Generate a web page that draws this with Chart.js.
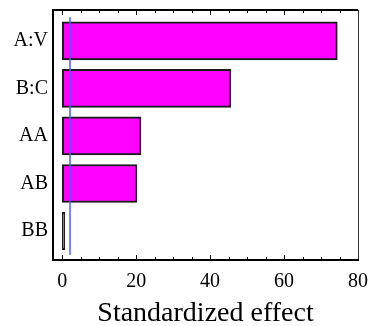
<!DOCTYPE html>
<html>
<head>
<meta charset="utf-8">
<script src="https://cdn.jsdelivr.net/npm/chart.js@4.4.1/dist/chart.umd.min.js"></script>
<style>
  html, body { margin: 0; padding: 0; background: #ffffff; }
  #wrap { width: 369px; height: 326px; }
</style>
</head>
<body>
<div id="wrap"><canvas id="paretoChart" width="369" height="326"></canvas></div>
<script>
// Pareto chart of standardized effects
const categories = ["A:V", "B:C", "AA", "AB", "BB"];
const effects = [74.4, 45.6, 21.3, 20.2, 0.65];
const xTicks = [0, 20, 40, 60, 80];
const minorStep = 5;
const criticalValue = 2.1;

const serif = "'Liberation Serif', 'Times New Roman', serif";

// frame, inside ticks and the significance line
const framePlugin = {
    id: "frame",
    afterDatasetsDraw(chart) {
        const { ctx, chartArea: a, scales: { x, y } } = chart;
        ctx.save();

        // blue reference line
        ctx.strokeStyle = "#4a5cff";
        ctx.lineWidth = 1.5;
        ctx.beginPath();
        const bx = x.getPixelForValue(criticalValue);
        ctx.moveTo(bx, y.getPixelForValue(-0.5));
        ctx.lineTo(bx, y.getPixelForValue(categories.length - 0.5));
        ctx.stroke();

        // ticks top and bottom
        ctx.strokeStyle = "#000000";
        ctx.lineWidth = 1;
        for (let v = 0; v <= xTicks[xTicks.length - 1]; v += minorStep) {
            const px = Math.round(x.getPixelForValue(v)) + 0.5;
            const len = xTicks.includes(v) ? 5 : 3;
            ctx.beginPath();
            ctx.moveTo(px, a.bottom);
            ctx.lineTo(px, a.bottom - len);
            ctx.moveTo(px, a.top);
            ctx.lineTo(px, a.top + len);
            ctx.stroke();
        }

        // right side, thin
        ctx.strokeStyle = "#333333";
        ctx.lineWidth = 1;
        ctx.beginPath();
        ctx.moveTo(a.right + 0.5, a.top);
        ctx.lineTo(a.right + 0.5, a.bottom);
        ctx.stroke();

        // left, top, bottom
        ctx.strokeStyle = "#000000";
        ctx.lineWidth = 2;
        ctx.beginPath();
        ctx.moveTo(a.right, a.top);
        ctx.lineTo(a.left, a.top);
        ctx.lineTo(a.left, a.bottom);
        ctx.lineTo(a.right + 1, a.bottom);
        ctx.stroke();

        ctx.restore();
    }
};

const ctx = document.getElementById("paretoChart").getContext("2d");

new Chart(ctx, {
    type: "bar",
    data: {
        datasets: [{
            data: categories.map((c, i) => ({ x: effects[i], y: i })),
            backgroundColor: "#ff00ff",
            borderColor: "#1a1a1a",
            borderWidth: 2,
            borderSkipped: false,
            barThickness: 38
        }]
    },
    options: {
        indexAxis: "y",
        responsive: false,
        animation: false,
        layout: { padding: { left: 0, top: 10, right: 11, bottom: 0 } },
        plugins: { legend: { display: false }, tooltip: { enabled: false } },
        scales: {
            x: {
                type: "linear",
                min: -2.5,
                max: 80,
                afterBuildTicks: (s) => { s.ticks = xTicks.map(v => ({ value: v })); },
                afterFit: (s) => { s.height = 66; s.paddingLeft = 0; s.paddingRight = 0; },
                grid: { display: false, drawTicks: false },
                border: { display: false },
                ticks: { color: "#000000", font: { family: serif, size: 20 }, padding: 10, maxRotation: 0 },
                title: {
                    display: true,
                    text: "Standardized effect",
                    color: "#000000",
                    font: { family: serif, size: 28, lineHeight: 1 },
                    padding: { top: 0, bottom: -2 }
                }
            },
            y: {
                type: "linear",
                reverse: true,
                offset: false,
                min: -0.65,
                max: 4.61,
                afterBuildTicks: (s) => { s.ticks = categories.map((c, i) => ({ value: i })); },
                afterFit: (s) => { s.width = 53; s.paddingTop = 0; s.paddingBottom = 0; },
                grid: { display: false, drawTicks: false },
                border: { display: false },
                ticks: {
                    color: "#000000",
                    font: { family: serif, size: 20 },
                    padding: 5,
                    callback: (v) => categories[v]
                }
            }
        }
    },
    plugins: [framePlugin]
});
</script>
</body>
</html>
